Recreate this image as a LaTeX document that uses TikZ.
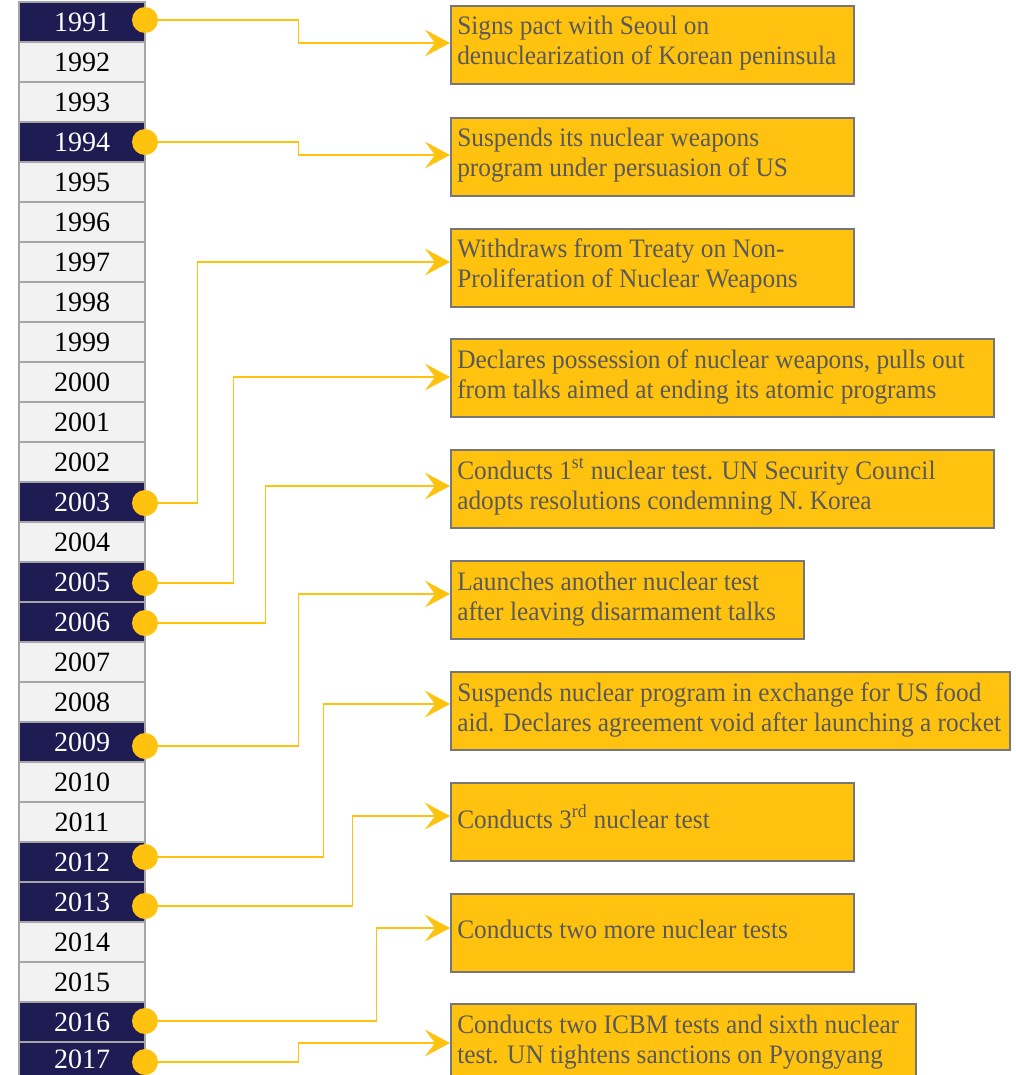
\documentclass[tikz,border=0pt]{standalone}
\usepackage{fontspec}
\setmainfont{Liberation Serif}
\newfontfamily\evfont[FakeStretch=0.95]{Liberation Serif}
\usetikzlibrary{arrows.meta,calc}
\definecolor{navy}{HTML}{1F1B53}
\definecolor{lightcell}{HTML}{F2F2F2}
\definecolor{cellgray}{HTML}{A6A6A6}
\definecolor{gold}{HTML}{FFC20E}
\definecolor{boxgray}{HTML}{767676}
\definecolor{evtext}{HTML}{595959}
\begin{document}
\begin{tikzpicture}[x=0.75pt,y=-0.75pt,
 yearL/.style={draw=cellgray, line width=1.5pt, fill=lightcell, minimum width=94.5pt, minimum height=30pt, inner sep=0pt, font=\fontsize{21}{24}\selectfont, text=black},
 yearD/.style={yearL, fill=navy, text=white},
 dot/.style={circle, fill=gold, minimum size=19.5pt, inner sep=0pt},
 evbox/.style={draw=boxgray, line width=1.5pt, fill=gold, anchor=north west, inner sep=0pt, minimum height=58.5pt},
 evline/.style={anchor=base west, inner sep=0pt, font=\evfont\fontsize{20}{24}\selectfont, text=evtext},
 conn/.style={draw=gold, line width=1.1pt, -{Stealth[length=18.75pt, width=20pt, inset=7.5pt]}},
]
\useasboundingbox (0,0) rectangle (1016,1075);
\clip (0,0) rectangle (1016,1075);

% year column
\foreach \yr/\st in {1991/yearD,1992/yearL,1993/yearL,1994/yearD,1995/yearL,1996/yearL,1997/yearL,1998/yearL,1999/yearL,2000/yearL,2001/yearL,2002/yearL,2003/yearD,2004/yearL,2005/yearD,2006/yearD,2007/yearL,2008/yearL,2009/yearD,2010/yearL,2011/yearL,2012/yearD,2013/yearD,2014/yearL,2015/yearL,2016/yearD}
  \node[\st] (y\yr) at (82,{22+40*(\yr-1991)}) {\yr};
\node[yearD, minimum height=25.5pt] (y2017) at (82,1059) {2017};

% event boxes
\node[evbox, minimum width=302.25pt] (b1) at (450,5) {};
\node[evbox, minimum width=302.25pt] (b2) at (450,117) {};
\node[evbox, minimum width=302.25pt] (b3) at (450,228) {};
\node[evbox, minimum width=407.25pt] (b4) at (450,338) {};
\node[evbox, minimum width=407.25pt] (b5) at (450,449) {};
\node[evbox, minimum width=264.75pt] (b6) at (450,560) {};
\node[evbox, minimum width=419.25pt] (b7) at (450,671) {};
\node[evbox, minimum width=302.25pt] (b8) at (450,782) {};
\node[evbox, minimum width=302.25pt] (b9) at (450,893) {};
\node[evbox, minimum width=348.75pt] (b10) at (450,1003) {};

% texts
\node[evline] (t1a) at ($(b1.north west)+(7,29)$) {Signs pact with Seoul on};
\node[evline] (t1b) at ($(b1.north west)+(7,59)$) {denuclearization of Korean peninsula};
\node[evline] (t2a) at ($(b2.north west)+(7,29)$) {Suspends its nuclear weapons};
\node[evline] (t2b) at ($(b2.north west)+(7,59)$) {program under persuasion of US};
\node[evline] (t3a) at ($(b3.north west)+(7,29)$) {Withdraws from Treaty on Non-};
\node[evline] (t3b) at ($(b3.north west)+(7,59)$) {Proliferation of Nuclear Weapons};
\node[evline] (t4a) at ($(b4.north west)+(7,30)$) {Declares possession of nuclear weapons, pulls out};
\node[evline] (t4b) at ($(b4.north west)+(7,60)$) {from talks aimed at ending its atomic programs};
\node[evline] (t5a) at ($(b5.north west)+(7,30)$) {Conducts 1\textsuperscript{st} nuclear test. UN Security Council};
\node[evline] (t5b) at ($(b5.north west)+(7,60)$) {adopts resolutions condemning N. Korea};
\node[evline] (t6a) at ($(b6.north west)+(7,30)$) {Launches another nuclear test};
\node[evline] (t6b) at ($(b6.north west)+(7,60)$) {after leaving disarmament talks};
\node[evline] (t7a) at ($(b7.north west)+(7,30)$) {Suspends nuclear program in exchange for US food};
\node[evline] (t7b) at ($(b7.north west)+(7,60)$) {aid. Declares agreement void after launching a rocket};
\node[evline] (t8) at ($(b8.north west)+(7,46)$) {Conducts 3\textsuperscript{rd} nuclear test};
\node[evline] (t9) at ($(b9.north west)+(7,45)$) {Conducts two more nuclear tests};
\node[evline] (t10a) at ($(b10.north west)+(7,30)$) {Conducts two ICBM tests and sixth nuclear};
\node[evline] (t10b) at ($(b10.north west)+(7,60)$) {test. UN tightens sanctions on Pyongyang};

% dots
\node[dot] (d1991) at ($(y1991.east)+(-1,-2)$) {};
\node[dot] (d1994) at ($(y1994.east)+(-1,0)$) {};
\node[dot] (d2003) at ($(y2003.east)+(-1,1)$) {};
\node[dot] (d2005) at ($(y2005.east)+(-1,1)$) {};
\node[dot] (d2006) at ($(y2006.east)+(-1,1)$) {};
\node[dot] (d2009) at ($(y2009.east)+(-1,4)$) {};
\node[dot] (d2012) at ($(y2012.east)+(-1,-5)$) {};
\node[dot] (d2013) at ($(y2013.east)+(-1,4)$) {};
\node[dot] (d2016) at ($(y2016.east)+(-1,-1)$) {};
\node[dot] (d2017) at ($(y2017.east)+(-1,3)$) {};

% connectors
\draw[conn] (d1991.east) -- ++(140,0) |- ($(b1.north west)+(0,38)$);
\draw[conn] (d1994.east) -- ++(140,0) |- ($(b2.north west)+(0,38)$);
\draw[conn] (d2003.east) -- ++(39,0) |- ($(b3.north west)+(0,34)$);
\draw[conn] (d2005.east) -- ++(75,0) |- ($(b4.north west)+(0,39)$);
\draw[conn] (d2006.east) -- ++(107,0) |- ($(b5.north west)+(0,37)$);
\draw[conn] (d2009.east) -- ++(140,0) |- ($(b6.north west)+(0,34)$);
\draw[conn] (d2012.east) -- ++(165,0) |- ($(b7.north west)+(0,33)$);
\draw[conn] (d2013.east) -- ++(194,0) |- ($(b8.north west)+(0,34)$);
\draw[conn] (d2016.east) -- ++(218,0) |- ($(b9.north west)+(0,35)$);
\draw[conn] (d2017.east) -- ++(140,0) |- ($(b10.north west)+(0,40)$);
\end{tikzpicture}
\end{document}
